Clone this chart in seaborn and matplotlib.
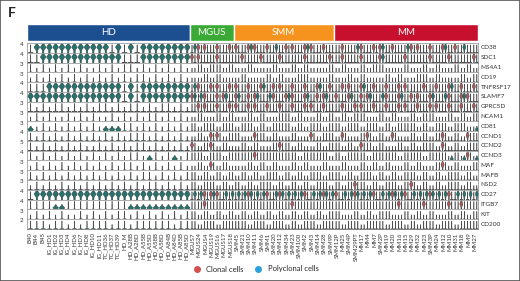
import numpy as np
import pandas as pd
import seaborn as sns
import matplotlib.pyplot as plt
from matplotlib.lines import Line2D
from matplotlib.patches import Rectangle

# sample order along the x axis, one block per disease stage
hd_samples = ['B40', 'B44', 'B45', 'IG_HD1', 'IG_HD2', 'IG_HD3', 'IG_HD4', 'IG_HD6',
              'IG_HD7', 'IG_HD8', 'IG_HD10', 'IG_HD11', 'TC_HD36', 'TC_HD37', 'TC_HD39',
              'HD_M', 'HD_A28B', 'HD_A28D', 'HD_A55B', 'HD_A55D', 'HD_A58B', 'HD_A58D',
              'HD_A84B', 'HD_A84D', 'HD_A85B', 'HD_A85D']
mgus_samples = ['MGUS7', 'MGUS24', 'MGUS4', 'MGUS19', 'MGUS16', 'MGUS17', 'MGUS18']
smm_samples = ['SMM5', 'SMM21', 'SMM10', 'SMM11', 'SMM6', 'SMM1', 'SMM20', 'SMM12',
               'SMM34', 'SMM23', 'SMM100', 'SMM2', 'SMM3', 'SMM14', 'SMM28', 'SMM9P']
mm_samples = ['SMM12P', 'MM25', 'SMM4P', 'SMM29PT', 'MM17', 'MM4', 'MM7', 'SMM2P',
              'MM19', 'MM20', 'MM16', 'MM15', 'MM29', 'MM32', 'MM23', 'SMM3P', 'MM24',
              'MM12', 'MM10', 'MM31', 'MM18', 'MM9', 'MM27']

groups = ['HD', 'MGUS', 'SMM', 'MM']
group_colors = ['#1c4f8f', '#3aa935', '#f6931e', '#c70f2e']

genes = ['CD38', 'SDC1', 'MS4A1', 'CD19', 'TNFRSF17', 'SLAMF7', 'GPRC5D', 'NCAM1',
         'CD81', 'CCND1', 'CCND2', 'CCND3', 'MAF', 'MAFB', 'NSD2', 'CD27', 'ITGB7',
         'KIT', 'CD200']
gene_max = [4, 4, 3, 3, 4, 4, 3, 3, 3, 4, 5, 4, 3, 3, 3, 4, 4, 3, 2]

# one code per sample (HD | MGUS | SMM | MM)
#  t = thin tail, . = short tail, T = polyclonal violin, R = clonal violin,
#  B = both violins, m = small polyclonal bump
patterns = [
    'tTTTTTTTTTTTTtTtTtTTTTTTTT' 'TRRtRtR' 'RtBRtRTtRRtBRtRt' 'tRtTRtRBtRtTRRtRtBtRTtt',
    'ttTTTTTTTTTTTTTtttTTTTTTTT' 'RRttRtt' 'tRttRttRtttRtttR' 'tRttRttBtttRtttRttRtttR',
    't.t.t.t.t..t.t.tt.t.t.t.t.' '.t.tt.t' '..t...t..t.t...t' '.t..t.tt...t..t.t..t.t.',
    '.t.t.t.t.t.t.t.t.tt.t.t.t.' '..t.t..' '.t...t.t..tt...t' '..t.t...t.t..tt.t...t.t',
    'tttTTTTTTTTTTTTtTtTTTTTTTT' 'TRtRRtR' 'RtRtBtRRtRtRtBtR' 'tRRtBtRtRtRRttRtRtBtRtR',
    'TTTTTTTTTTTTTTTtTtTTTTTTTT' 'BTRtRBt' 'BtRBtTRtBRtBtRBt' 'RtBtRBtTRtBtRRtBtTRtBRt',
    't.t.tt.t.t.tt.t.tt.t.tt.t.' 'tRRtRtR' 'RtRRtRtRtRtRRtRt' 'tRtRRtRtRtRRtRtRRtRtRtR',
    '.t.t..t.t.t..t.t.t.tt.t.t.' '.t..t.t' '..t.t..tt.t..t.t' '.t.tt..t.t..t.tt..t.t.t',
    'm.t.t.t.t.t.mmmtt.t.t.t.t.' 't.tt.tt' '.tt.t.ttt.t.tt.t' 't.tt.tt.t.ttt.t.tt.tt.m',
    't.t.t.t.t.t.t.t.ttt.t.t.t.' '.t.RR.t' 't..Rt.t..t..R.tt' '.R..tR.t.R..t.t.tR.t.Rt',
    't.t.t.t.t..t.t.t.tt.t.t.t.' 'R.tR.t.' '.t.t..tRt.t..t.t' 't.t.Rt.t..t.t.tt.R.t.tt',
    't.t.t.t.t.t.t.t.tt.mt.tm.t' 'tt.tt.t' 'tttRtttttt.tttt.' 't.ttt.tttt.ttt.tttmtmRm',
    '.t.t.t.t.t.t.t.tt.t.t.t.t.' '.t.R.t.' '..t.t.t..t.t..t.' '.t..t.t.t..t.t..tR.t..t',
    't.t.t.t.t.t.t.t.t.tt.t.t.t' 't.t.t.t' '.t.t.tt.t.t.tt.t' 't.t.tt.t.t.tt.t.t.tt.t.',
    '.t.t.t.t.t.t.t.t.t.tt.t.t.' 't.tt.t.' 't.t.tt.t.t.t.tt.' 't.tRt.t.tt.tR.t.t.tt.t.',
    'tTTTTTTTTTTTTTTTTTTTTTTTTT' 'TTRBRTT' 'TTBTTRTBTTTRTTBT' 'RTTBTTRTTBTRTTTBTTRTTTT',
    'ttttmmttttttttttmmmmmmmmmm' 'ttRtttt' 'tttttttttRtttttt' 'ttttttttttRtttRtttRtRtt',
    '.t.t.t..t.t.t.tt.t.t.t.t.t' 't.t.t.t' '.t.t.t.t.t.t.t.t' 't..t.t.tt..t.t.t..t.t.t',
    'ttt.tt.t.tttt.tt.tttttt.tt' 't.tt.tt' 'tt.tt.tt.t.tt.tt' 't.tt.ttt.tt.t.tt.tt.ttt',
]

# typed expression profiles, as fractions of each gene's axis maximum
peak_profile = [0.0, 0.05, 0.2, 0.35, 0.45, 0.52, 0.57, 0.61, 0.64, 0.66,
                0.68, 0.70, 0.72, 0.75, 0.78, 0.82, 0.87, 0.93, 1.0, 1.08]
low_profile = [0.0, 0.04, 0.08, 0.12, 0.15, 0.18, 0.20, 0.22, 0.24, 0.26,
               0.28, 0.31, 0.35, 0.40, 0.48, 0.60]
tail_profile = [0, 0, 0, 0, 0, 0, 0, 0, 0, 0, 0, 0, 0, 0,
                0.03, 0.08, 0.18, 0.35, 0.60, 0.98]
short_profile = [0, 0, 0, 0, 0, 0, 0, 0, 0, 0, 0, 0, 0, 0,
                 0.03, 0.07, 0.14, 0.25, 0.40, 0.55]

profiles = {'peak': peak_profile, 'low': low_profile,
            'tail': tail_profile, 'short': short_profile}
# code -> (polyclonal profile, clonal profile)
codes = {'t': ('tail', 'tail'), '.': ('short', 'short'), 'T': ('peak', 'tail'),
         'R': ('tail', 'peak'), 'B': ('peak', 'peak'), 'm': ('low', 'short')}

samples = hd_samples + mgus_samples + smm_samples + mm_samples
group_sizes = [len(hd_samples), len(mgus_samples), len(smm_samples), len(mm_samples)]

records = []
for gene, top, pat in zip(genes, gene_max, patterns):
    assert len(pat) == len(samples), gene
    for s, c in zip(samples, pat):
        poly, clon = codes[c]
        healthy = s in hd_samples
        cells = [('Polyclonal cells', poly)]
        if not healthy:
            cells.append(('Clonal cells', clon))
        for label, prof in cells:
            kind = 'smooth' if prof in ('peak', 'low') else 'thin'
            for v in profiles[prof]:
                records.append({'gene': gene, 'sample': s, 'cells': label,
                                'healthy': healthy, 'kind': kind, 'expr': v * top})
df = pd.DataFrame(records)

sns.set_style('white')
plt.rcParams['font.family'] = ['Lato', 'DejaVu Sans']

palette = {'Polyclonal cells': '#1b7e78', 'Clonal cells': '#c8464b'}
hue_order = ['Clonal cells', 'Polyclonal cells']

W, H = 520, 281
fig = plt.figure(figsize=(W / 100, H / 100), dpi=100)
left, right = 27, 478
row_top, row_bot = 43, 229
row_h = (row_bot - row_top) / len(genes)

# header bar with disease stages
hax = fig.add_axes([left / W, 1 - 41 / H, (right - left) / W, 17 / H])
starts = np.cumsum([0] + group_sizes[:-1]) - 0.5
hax.barh(0, group_sizes, left=starts, height=1, color=group_colors)
for g, st, n in zip(groups, starts, group_sizes):
    hax.text(st + n / 2, 0, g, color='white', ha='center', va='center', fontsize=7)
hax.set_xlim(-0.5, len(samples) - 0.5)
hax.set_ylim(-0.5, 0.5)
hax.axis('off')

styles = [('thin', 0.3, '#4d4d4d', 0.4), ('smooth', 0.8, '#2b3b3a', 0.35)]

for i, (gene, top) in enumerate(zip(genes, gene_max)):
    y0 = row_top + i * row_h
    ax = fig.add_axes([left / W, 1 - (y0 + row_h) / H, (right - left) / W, row_h / H])
    sub = df[df['gene'] == gene]
    for healthy in [True, False]:
        for kind, bw, lc, lw in styles:
            part = sub[(sub['kind'] == kind) & (sub['healthy'] == healthy)]
            if len(part) == 0:
                continue
            # healthy donors only have polyclonal cells: full-width violin
            sns.violinplot(data=part, x='sample', y='expr', hue='cells', order=samples,
                           hue_order=hue_order, palette=palette, dodge=not healthy,
                           density_norm='width', cut=0, inner=None,
                           width=0.85 if healthy else 0.95, gap=0,
                           linewidth=lw, linecolor=lc, bw_adjust=bw,
                           legend=False, ax=ax)
    ax.set_xlim(-0.5, len(samples) - 0.5)
    ax.set_ylim(-0.03 * top, 1.15 * top)
    ax.set_yticks([top])
    ax.set_yticklabels([str(top)], fontsize=4.5, color='#333333')
    ax.set_xlabel('')
    ax.set_ylabel('')
    ax.tick_params(axis='y', length=1.5, width=0.4, pad=1)
    ax.text(1.006, 0.5, gene, transform=ax.transAxes, fontsize=4.6,
            color='#333333', va='center', ha='left')
    for sp in ax.spines.values():
        sp.set_linewidth(0.5)
        sp.set_color('#8a8a8a')
    if i == len(genes) - 1:
        ax.set_xticks(range(len(samples)))
        ax.set_xticklabels(samples, rotation=90, fontsize=4.4, color='#333333')
        ax.tick_params(axis='x', length=1.5, width=0.4, pad=1)
    else:
        ax.set_xticks([])

handles = [Line2D([], [], marker='o', ls='', color='#d4504f', markersize=4, label='Clonal cells'),
           Line2D([], [], marker='o', ls='', color='#2aa0dc', markersize=4, label='Polyclonal cells')]
fig.legend(handles=handles, loc='center', bbox_to_anchor=(254 / W, 1 - 269 / H), ncol=2,
           frameon=False, fontsize=5.5, handletextpad=0.2, columnspacing=0.9)

fig.text(8 / W, 1 - 13 / H, 'F', fontsize=10, fontweight='bold', va='center')
fig.patches.append(Rectangle((0, 0), 1, 1, transform=fig.transFigure, fill=False,
                             edgecolor='#555555', linewidth=1.2))

fig.savefig('out.png', dpi=100)
